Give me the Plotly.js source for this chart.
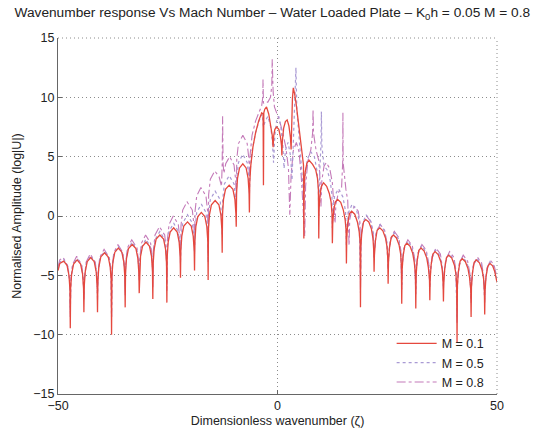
<!DOCTYPE html>
<html><head><meta charset="utf-8">
<script src="https://cdn.plot.ly/plotly-3.0.1.min.js"></script>
<style>html,body{margin:0;padding:0;background:#fff}#chart{width:534px;height:434px}</style>
</head><body><div id="chart"></div>
<script>
const seriesNames = ["M = 0.1", "M = 0.5", "M = 0.8"];
const xTicks = [-50, 0, 50];
const yTicks = [-15, -10, -5, 0, 5, 10, 15];

// M = 0.1 (solid red) [zeta, log|U|]
const m01 = [
[-50,-4.6],[-49.6,-4.0],[-48.7,-3.8],[-47.95,-4.15],[-47.5,-5.0],[-47.28,-6.2],[-47.2,-9.45],
[-47.12,-6.1],[-46.9,-4.9],[-46.45,-4.05],[-45.65,-3.7],[-44.85,-4.05],[-44.4,-4.9],[-44.18,-6.1],[-44.1,-8.1],
[-44.02,-5.9],[-43.8,-4.7],[-43.35,-3.85],[-42.55,-3.5],[-41.75,-3.85],[-41.3,-4.7],[-41.08,-5.9],[-41.0,-8.1],
[-40.92,-5.5],[-40.7,-4.3],[-40.25,-3.45],[-39.4,-3.1],[-38.55,-3.45],[-38.1,-4.3],[-37.88,-5.5],[-37.8,-10.0],
[-37.72,-5.1],[-37.5,-3.9],[-37.05,-3.05],[-36.25,-2.7],[-35.45,-3.05],[-35.0,-3.9],[-34.78,-5.1],[-34.7,-7.7],
[-34.62,-4.8],[-34.4,-3.6],[-33.95,-2.75],[-33.1,-2.4],[-32.25,-2.75],[-31.8,-3.6],[-31.58,-4.8],[-31.5,-6.5],
[-31.42,-4.6],[-31.2,-3.4],[-30.75,-2.55],[-29.95,-2.2],[-29.15,-2.55],[-28.7,-3.4],[-28.48,-4.6],[-28.4,-7.0],
[-28.32,-4.0],[-28.1,-2.8],[-27.65,-1.95],[-26.8,-1.6],[-25.95,-1.95],[-25.5,-2.8],[-25.28,-4.0],[-25.2,-7.3],
[-25.12,-3.4],[-24.9,-2.2],[-24.45,-1.35],[-23.65,-1.0],[-22.85,-1.35],[-22.4,-2.2],[-22.18,-3.4],[-22.1,-5.2],
[-22.02,-2.9],[-21.8,-1.7],[-21.35,-0.85],[-20.5,-0.5],[-19.65,-0.85],[-19.2,-1.7],[-18.98,-2.9],[-18.9,-4.6],
[-18.82,-2.1],[-18.6,-0.9],[-18.15,-0.05],[-17.35,0.3],[-16.55,-0.05],[-16.1,-0.9],[-15.88,-2.1],[-15.8,-5.4],
[-15.72,-1.1],[-15.5,0.1],[-15.05,0.95],[-14.2,1.3],[-13.35,0.95],[-12.9,0.1],[-12.68,-1.1],[-12.6,-3.1],
[-12.52,0.2],[-12.3,1.4],[-11.85,2.25],[-11.0,2.6],[-10.15,2.25],[-9.7,1.4],[-9.48,0.2],[-9.4,-0.9],
[-9.32,2.0],[-9.1,3.2],[-8.65,4.05],[-7.9,4.4],[-7.15,4.05],[-6.7,3.2],[-6.48,2.0],[-6.4,0.3],
[-6.32,2.8],[-6.1,4.2],[-5.6,5.8],[-5.0,7.0],[-4.3,8.0],[-3.6,8.7],[-3.28,8.6],[-3.2,2.6],[-3.12,8.7],[-2.9,9.0],[-2.5,9.2],[-2.0,8.6],[-1.5,7.6],[-1.2,6.8],[-1.0,5.8],
[-0.85,6.8],[-0.6,7.3],[-0.2,7.5],[0.3,7.3],[0.7,6.6],[0.92,5.9],[1.0,5.1],
[1.1,6.3],[1.4,7.4],[1.8,7.95],[2.2,8.1],[2.6,7.6],[2.95,6.6],[3.1,5.6],
[3.2,8.0],[3.4,9.9],[3.6,10.8],[3.9,10.3],[4.3,9.3],[4.8,7.9],[5.3,6.4],[5.7,5.1],[5.92,4.3],[6.0,-1.9],
[6.08,2.6],[6.3,3.7],[6.7,4.45],[7.2,4.7],[8.0,4.35],[8.7,3.9],[9.1,3.2],[9.32,2.2],[9.4,-1.9],
[9.48,0.6],[9.7,1.8],[10.0,2.5],[10.5,2.8],[11.2,2.5],[11.8,1.9],[12.2,1.2],[12.42,0.2],[12.5,-2.3],
[12.58,-0.7],[12.8,0.5],[13.2,1.2],[13.7,1.4],[14.4,1.15],[15.0,0.5],[15.4,-0.3],[15.62,-1.2],[15.7,-4.0],
[15.78,-1.8],[16.0,-0.6],[16.4,0.2],[16.9,0.4],[17.6,0.15],[18.2,-0.5],[18.6,-1.3],[18.82,-2.2],[18.9,-7.7],
[18.98,-2.6],[19.2,-1.4],[19.6,-0.5],[20.1,-0.3],[20.8,-0.5],[21.4,-1.1],[21.75,-1.9],[21.92,-2.9],[22.0,-4.7],
[22.08,-3.3],[22.3,-2.1],[22.7,-1.2],[23.3,-1.0],[24.0,-1.25],[24.6,-1.85],[24.95,-2.6],[25.12,-3.6],[25.2,-5.7],
[25.28,-3.9],[25.5,-2.7],[25.9,-1.8],[26.4,-1.6],[27.1,-1.85],[27.7,-2.45],[28.05,-3.2],[28.22,-4.2],[28.3,-7.4],
[28.38,-4.6],[28.6,-3.4],[29.0,-2.5],[29.5,-2.3],[30.2,-2.55],[30.8,-3.15],[31.15,-3.9],[31.42,-4.9],[31.5,-7.8],
[31.58,-5.0],[31.8,-3.8],[32.2,-2.9],[32.7,-2.7],[33.4,-2.95],[34.0,-3.55],[34.35,-4.3],[34.62,-5.3],[34.7,-7.1],
[34.78,-5.3],[35.0,-4.1],[35.4,-3.2],[35.9,-3.0],[36.6,-3.25],[37.2,-3.85],[37.55,-4.6],[37.72,-5.6],[37.8,-7.2],
[37.88,-5.6],[38.1,-4.4],[38.5,-3.5],[39.0,-3.3],[39.7,-3.55],[40.3,-4.15],[40.65,-4.9],[40.82,-5.9],[40.9,-10.7],
[40.98,-5.9],[41.2,-4.7],[41.6,-3.8],[42.1,-3.6],[42.8,-3.85],[43.4,-4.45],[43.75,-5.2],[44.02,-6.2],[44.1,-8.5],
[44.18,-6.0],[44.4,-4.8],[44.8,-3.9],[45.3,-3.7],[46.0,-3.95],[46.6,-4.55],[46.95,-5.3],[47.12,-6.3],[47.2,-8.3],
[47.28,-6.3],[47.5,-5.1],[47.9,-4.25],[48.4,-4.0],[49.0,-4.2],[49.5,-4.7],[49.8,-5.1],[50,-5.6]
];

// M = 0.5 (dotted)
const m05 = [
[-50,-4.5],[-49.6,-3.9],[-48.7,-3.65],[-47.7,-4.3],[-47.32,-5.6],[-47.2,-8.0],
[-47.08,-5.55],[-46.7,-4.25],[-45.65,-3.55],[-44.6,-4.25],[-44.22,-5.55],[-44.1,-6.6],
[-43.98,-5.35],[-43.6,-4.05],[-42.55,-3.35],[-41.5,-4.05],[-41.12,-5.35],[-41.0,-6.6],
[-40.88,-4.95],[-40.5,-3.65],[-39.4,-2.95],[-38.3,-3.65],[-37.92,-4.95],[-37.8,-8.5],
[-37.68,-4.55],[-37.3,-3.25],[-36.25,-2.55],[-35.2,-3.25],[-34.82,-4.55],[-34.7,-6.2],
[-34.58,-4.2],[-34.2,-2.9],[-33.1,-2.2],[-32.0,-2.9],[-31.62,-4.2],[-31.5,-5.0],
[-31.38,-3.95],[-31.0,-2.65],[-29.95,-1.95],[-28.9,-2.65],[-28.52,-3.95],[-28.4,-5.5],
[-28.28,-3.3],[-27.9,-2.0],[-26.8,-1.3],[-25.7,-2.0],[-25.32,-3.3],[-25.2,-5.8],
[-25.08,-2.6],[-24.7,-1.3],[-23.65,-0.6],[-22.6,-1.3],[-22.22,-2.6],[-22.1,-3.7],
[-21.98,-1.9],[-21.6,-0.6],[-20.5,0.1],[-19.4,-0.6],[-19.02,-1.9],[-18.9,-3.1],
[-18.78,-1.0],[-18.4,0.3],[-17.35,1.0],[-16.3,0.3],[-15.92,-1.0],[-15.8,-3.9],
[-15.68,0.1],[-15.3,1.4],[-14.2,2.1],[-13.1,1.4],[-12.72,0.1],[-12.6,-1.6],
[-12.48,1.4],[-12.1,2.7],[-11.0,3.4],[-9.9,2.7],[-9.52,1.4],[-9.4,0.6],
[-9.28,3.2],[-8.9,4.5],[-7.9,5.2],[-6.9,4.5],[-6.52,3.2],[-6.4,1.8],
[-6.28,3.5],[-5.8,5.5],[-5.0,7.0],[-4.2,8.0],[-3.5,8.6],[-3.2,7.5],[-2.8,8.0],[-2.2,8.4],[-1.6,7.6],[-1.2,6.5],[-0.9,4.5],
[-0.6,6.8],[-0.2,8.0],[0.3,8.4],[0.8,7.4],[1.2,6.0],[1.5,4.0],[1.8,5.5],[2.4,6.2],[3.0,5.0],[3.3,3.0],
[3.6,6.0],[4.0,9.0],[4.2,12.5],[4.4,9.0],[4.9,6.5],[5.4,4.2],[5.8,2.5],[6.0,0.5],
[6.2,3.0],[6.8,4.8],[7.6,5.4],[8.4,5.0],[9.0,3.8],[9.3,2.5],[9.4,0.0],
[9.6,3.5],[9.9,6.0],[10.0,8.8],[10.1,6.0],[10.6,4.2],[11.3,3.9],[12.0,3.0],[12.4,1.8],[12.5,-1.0],
[12.62,0.4],[13.0,1.7],[13.9,2.3],[14.9,1.6],[15.5,0.4],[15.7,-2.5],
[15.82,-1.0],[16.2,0.3],[17.0,1.0],[18.0,0.5],[18.6,-0.4],[18.9,-5.5],
[19.02,-1.9],[19.4,-0.6],[20.2,0.1],[21.2,-0.4],[21.8,-1.4],[22.0,-3.5],
[22.12,-2.7],[22.5,-1.4],[23.3,-0.7],[24.3,-1.2],[24.95,-2.3],[25.2,-4.5],
[25.32,-3.4],[25.7,-2.1],[26.5,-1.4],[27.5,-1.9],[28.1,-3.0],[28.3,-5.8],
[28.42,-4.1],[28.8,-2.8],[29.6,-2.1],[30.6,-2.6],[31.25,-3.7],[31.5,-6.2],
[31.62,-4.5],[32.0,-3.2],[32.8,-2.5],[33.8,-3.0],[34.45,-4.1],[34.7,-5.8],
[34.82,-4.85],[35.2,-3.55],[36.0,-2.85],[37.0,-3.35],[37.55,-4.45],[37.8,-6.0],
[37.92,-5.15],[38.3,-3.85],[39.1,-3.15],[40.1,-3.65],[40.65,-4.75],[40.9,-8.5],
[41.02,-5.45],[41.4,-4.15],[42.2,-3.45],[43.2,-3.95],[43.85,-5.05],[44.1,-7.0],
[44.22,-5.55],[44.6,-4.25],[45.4,-3.55],[46.4,-4.05],[46.95,-5.15],[47.2,-7.0],
[47.32,-5.8],[47.7,-4.5],[48.4,-3.85],[49.2,-4.2],[49.7,-4.8],[50,-5.3]
];

// M = 0.8 (dash-dot)
const m08 = [
[-50,-4.3],[-49.6,-3.7],[-48.8,-3.5],[-47.8,-4.2],[-47.32,-5.5],[-47.2,-8.5],
[-47.08,-5.4],[-46.7,-4.1],[-45.75,-3.4],[-44.6,-4.1],[-44.22,-5.4],[-44.1,-7.1],
[-43.98,-5.2],[-43.6,-3.9],[-42.65,-3.2],[-41.5,-3.9],[-41.12,-5.2],[-41.0,-7.1],
[-40.88,-4.8],[-40.5,-3.5],[-39.5,-2.8],[-38.3,-3.5],[-37.92,-4.8],[-37.8,-8.5],
[-37.68,-4.4],[-37.3,-3.1],[-36.35,-2.4],[-35.2,-3.1],[-34.82,-4.4],[-34.7,-6.7],
[-34.58,-4.0],[-34.2,-2.7],[-33.2,-2.0],[-32.0,-2.7],[-31.62,-4.0],[-31.5,-5.5],
[-31.38,-3.6],[-31.0,-2.3],[-30.05,-1.6],[-28.9,-2.3],[-28.52,-3.6],[-28.4,-6.0],
[-28.28,-2.9],[-27.9,-1.6],[-26.9,-0.9],[-25.7,-1.6],[-25.32,-2.9],[-25.2,-6.3],
[-25.08,-2.0],[-24.7,-0.7],[-23.75,0.0],[-22.6,-0.7],[-22.22,-2.0],[-22.1,-4.0],
[-21.98,-0.8],[-21.6,0.5],[-20.6,1.2],[-19.4,0.5],[-19.02,-0.8],[-18.9,-3.2],
[-18.78,0.4],[-18.4,1.7],[-17.45,2.4],[-16.3,1.7],[-15.92,0.4],[-15.8,-3.0],
[-15.68,1.8],[-15.3,3.1],[-14.3,3.8],[-13.3,3.3],[-12.75,2.5],[-12.6,4.4],[-12.5,8.4],[-12.4,4.4],
[-12.2,3.6],[-11.8,4.4],[-10.9,5.0],[-9.9,4.3],[-9.52,3.0],[-9.4,1.0],
[-9.28,4.8],[-8.9,6.1],[-7.9,6.8],[-6.9,6.1],[-6.52,4.8],[-6.4,3.0],
[-6.28,5.0],[-5.8,6.8],[-5.0,8.0],[-4.2,8.8],[-3.6,9.3],[-3.35,10.0],[-3.3,11.5],[-3.2,9.5],[-2.8,9.6],[-2.2,9.6],[-1.6,10.0],[-1.3,11.0],[-1.2,13.2],[-1.0,10.5],
[-0.7,9.2],[-0.2,8.7],[0.5,8.0],[1.2,7.0],[1.9,5.8],[2.5,4.0],[2.8,0.1],[3.1,3.5],[3.6,5.5],[4.3,6.2],[4.9,5.4],[5.4,3.4],[5.8,1.0],[6.2,-1.7],
[6.4,2.5],[6.9,4.6],[7.6,5.6],[8.0,7.0],[8.1,9.0],[8.2,7.0],[8.8,5.5],[9.4,4.7],[9.7,3.0],[9.9,0.8],
[10.1,3.0],[10.6,4.2],[11.1,4.5],[11.9,4.0],[12.5,2.8],[12.9,1.0],[13.1,-0.6],
[13.3,1.0],[13.9,2.0],[14.6,2.4],[14.85,4.5],[14.9,8.7],[14.95,4.5],[15.6,2.2],[16.0,1.3],[16.3,-2.5],
[16.45,-0.3],[16.9,0.5],[17.6,0.8],[18.4,0.4],[18.8,-0.6],[18.9,-6.5],
[19.02,-2.0],[19.4,-0.7],[20.3,0.0],[21.3,-0.5],[21.8,-1.5],[22.0,-3.5],
[22.12,-2.7],[22.5,-1.4],[23.4,-0.7],[24.4,-1.2],[24.95,-2.3],[25.2,-4.5],
[25.32,-3.3],[25.7,-2.0],[26.6,-1.3],[27.6,-1.8],[28.1,-2.9],[28.3,-6.2],
[28.42,-4.0],[28.8,-2.7],[29.7,-2.0],[30.7,-2.5],[31.25,-3.6],[31.5,-6.6],
[31.62,-4.4],[32.0,-3.1],[32.9,-2.4],[33.9,-2.9],[34.45,-4.0],[34.7,-6.0],
[34.82,-4.7],[35.2,-3.4],[36.1,-2.7],[37.1,-3.2],[37.55,-4.3],[37.8,-6.2],
[37.92,-5.0],[38.3,-3.7],[39.2,-3.0],[40.2,-3.5],[40.65,-4.6],[40.9,-9.0],
[41.02,-5.3],[41.4,-4.0],[42.3,-3.3],[43.3,-3.8],[43.85,-4.9],[44.1,-7.3],
[44.22,-5.45],[44.6,-4.15],[45.5,-3.45],[46.5,-3.95],[46.95,-5.05],[47.2,-7.3],
[47.32,-5.7],[47.7,-4.4],[48.5,-3.75],[49.3,-4.1],[49.8,-4.8],[50,-5.2]
];

const font = "Liberation Sans, Arial, Helvetica, sans-serif";
function tr(pts, name, color, dash, width){
  return {type:"scatter", mode:"lines", name:name,
    x: pts.map(p=>p[0]), y: pts.map(p=>p[1]),
    line:{color:color, dash:dash, width:width}, hoverinfo:"skip"};
}
const data = [
  tr(m08, seriesNames[2], "#c47ab9", "dashdot", 1.1),
  tr(m05, seriesNames[1], "#a99ad4", "dot", 1.2),
  tr(m01, seriesNames[0], "#e5483e", "solid", 1.3)
];
const gridDash = "1px,3px";
const gridColor = "#8c8c8c";
const layout = {
  width:534, height:434,
  margin:{l:58, r:37, t:38, b:40},
  paper_bgcolor:"#fff", plot_bgcolor:"#fff",
  font:{family:font, size:12, color:"#222"},
  showlegend:true,
  title:{text:"Wavenumber response Vs Mach Number – Water Loaded Plate – K<sub>0</sub>h = 0.05 M = 0.8",
    font:{family:font, size:13.7, color:"#222"}, x:0.51, xanchor:"center", y:0.972, yanchor:"middle", yref:"container"},
  xaxis:{range:[-50,50], tickvals:xTicks, ticktext:xTicks.map(v=>v<0?"−"+Math.abs(v):String(v)),
    showgrid:true, griddash:gridDash, gridcolor:gridColor, gridwidth:1, zeroline:false,
    showline:true, linecolor:"#666", linewidth:1, ticks:"inside", ticklen:4, tickcolor:"#666",
    tickfont:{size:12.5, color:"#222"},
    title:{text:"Dimensionless wavenumber (ζ)", font:{size:12.5, color:"#222"}, standoff:4}},
  yaxis:{range:[-15,15], tickvals:yTicks,
    showgrid:true, griddash:gridDash, gridcolor:gridColor, gridwidth:1, zeroline:false,
    showline:true, linecolor:"#666", linewidth:1, ticks:"inside", ticklen:4, tickcolor:"#666",
    tickfont:{size:12.5, color:"#222"},
    title:{text:"Normalised Amplitude (log|U|)", font:{size:12.5, color:"#222"}, standoff:8}},
  legend:{x:0.76, xanchor:"left", y:-0.008, yanchor:"bottom", bgcolor:"rgba(0,0,0,0)",
    font:{size:12.5, color:"#222"}, traceorder:"reversed", itemwidth:40},
  shapes:[
    {type:"line", xref:"paper", yref:"paper", x0:0, x1:1, y0:1, y1:1, line:{color:gridColor, width:1, dash:gridDash}},
    {type:"line", xref:"paper", yref:"paper", x0:1, x1:1, y0:0, y1:1, line:{color:gridColor, width:1, dash:gridDash}}
  ]
};
Plotly.newPlot("chart", data, layout, {displayModeBar:false, staticPlot:true});
</script></body></html>
